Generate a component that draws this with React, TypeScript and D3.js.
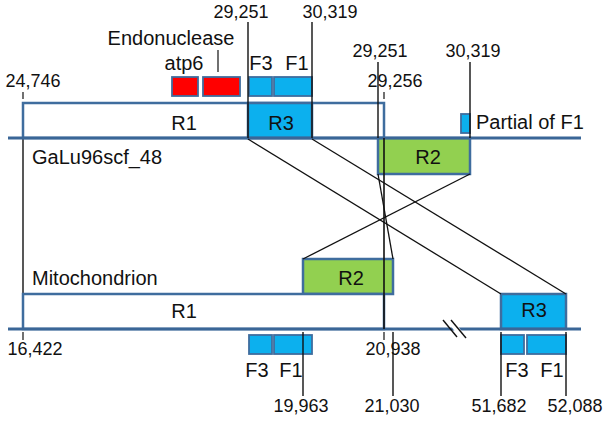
import React from 'react';
import * as d3 from 'd3';

const W = 609;
const H = 422;

// ---- data (schematic positions in diagram units) ----
const topRegions = [
  { name: 'R1', start: 23, end: 384, kind: 'plain' },
  { name: 'R3', start: 248, end: 312, kind: 'blue' },
];
const topLowerRegions = [{ name: 'R2', start: 378, end: 470, kind: 'green' }];
const topGenes = [
  { name: 'atp6', start: 172, end: 198, kind: 'red' },
  { name: 'Endonuclease', start: 203, end: 240, kind: 'red' },
  { name: 'F3', start: 249, end: 272, kind: 'blue' },
  { name: 'F1', start: 274, end: 312, kind: 'blue' },
];
const partialGenes = [{ name: 'Partial of F1', start: 461, end: 470 }];
const bottomUpperRegions = [{ name: 'R2', start: 303, end: 393, kind: 'green' }];
const bottomRegions = [
  { name: 'R1', start: 23, end: 384, kind: 'plain' },
  { name: 'R3', start: 501, end: 566, kind: 'blue' },
];
const bottomGenes = [
  { name: 'F3', start: 249, end: 272 },
  { name: 'F1', start: 274, end: 312 },
  { name: 'F3', start: 501, end: 524 },
  { name: 'F1', start: 527, end: 566 },
];
const sequenceNames = ['GaLu96scf_48', 'Mitochondrion'];
const trackSpan = [8, 581];

// coordinate labels: genome position text, schematic position, text centre
const topCoords = [
  { label: '24,746', pos: 23, tx: 33, row: 'mid', line: 'tick' },
  { label: '29,251', pos: 248, tx: 241, row: 'high', line: 'long' },
  { label: '30,319', pos: 312, tx: 330, row: 'high', line: 'long' },
  { label: '29,251', pos: 378, tx: 380, row: 'upper', line: 'long' },
  { label: '29,256', pos: 384, tx: 395, row: 'mid', line: 'tick' },
  { label: '30,319', pos: 470, tx: 473, row: 'upper', line: 'long' },
];
const bottomCoords = [
  { label: '16,422', pos: 23, tx: 35, row: 'near', line: 'tick' },
  { label: '20,938', pos: 384, tx: 393, row: 'near', line: 'tick' },
  { label: '19,963', pos: 303, tx: 301, row: 'far', line: 'long' },
  { label: '21,030', pos: 393, tx: 392, row: 'far', line: 'long' },
  { label: '51,682', pos: 501, tx: 499, row: 'far', line: 'long' },
  { label: '52,088', pos: 566, tx: 575, row: 'far', line: 'long' },
];

// ---- styles ----
const FILL: Record<string, string> = {
  plain: '#ffffff',
  blue: '#0cb0ee',
  green: '#92d050',
  red: '#ff0000',
};
const OUTLINE = '#3f6d9e';
const TRACK = '#3a6697';
const FONT = '"Liberation Sans", Arial, Helvetica, sans-serif';

export default function App() {
  const x = d3.scaleLinear().domain([0, W]).range([0, W]);
  // vertical layout
  const Y = {
    topGeneTop: 77, topGeneBot: 96,
    topBoxTop: 103, topTrack: 138, topLowerBot: 174,
    botUpperTop: 259, botBoxTop: 294, botTrack: 329,
    botGeneTop: 335, botGeneBot: 354,
  };
  const topTextY: Record<string, number> = { high: 18, upper: 57, mid: 87 };
  const topLineY: Record<string, number> = { high: 22, upper: 62 };
  const botTextY: Record<string, number> = { near: 355, far: 412 };

  const rect = (s: number, e: number, y0: number, y1: number, fill: string, key: string, sw = 2.5) => (
    <rect key={key} x={x(s)} y={y0} width={x(e) - x(s)} height={y1 - y0}
      fill={fill} stroke={OUTLINE} strokeWidth={sw} />
  );
  const txt = (t: string, cx: number, y: number, key: string, size = 20, anchor = 'middle') => (
    <text key={key} x={cx} y={y} fontSize={size} textAnchor={anchor} fill="#111" fontFamily={FONT}>{t}</text>
  );
  const line = (x1: number, y1: number, x2: number, y2: number, key: string, sw = 1.4, color = '#111') => (
    <line key={key} x1={x1} y1={y1} x2={x2} y2={y2} stroke={color} strokeWidth={sw} />
  );

  const r3Top = topRegions[1];
  const r3Bot = bottomRegions[1];
  const r2Top = topLowerRegions[0];
  const r2Bot = bottomUpperRegions[0];

  return (
    <svg width={W} height={H} style={{ position: 'absolute', left: 0, top: 0, background: '#fff' }}>
      <rect x={0} y={0} width={W} height={H} fill="#fff" />

      {/* long black connecting verticals */}
      {line(x(23), Y.topTrack, x(23), Y.botBoxTop, 'v23')}

      {/* top boxes */}
      {topRegions.map((r, i) => rect(r.start, r.end, Y.topBoxTop, Y.topTrack, FILL[r.kind], 'tr' + i))}
      {topLowerRegions.map((r, i) => rect(r.start, r.end, Y.topTrack, Y.topLowerBot, FILL[r.kind], 'tl' + i))}
      {topGenes.map((g, i) => rect(g.start, g.end, Y.topGeneTop, Y.topGeneBot, FILL[g.kind], 'tg' + i, 1.8))}
      {partialGenes.map((g, i) => rect(g.start, g.end, 114, 133, FILL.blue, 'pg' + i, 1.8))}

      {/* bottom boxes */}
      {bottomUpperRegions.map((r, i) => rect(r.start, r.end, Y.botUpperTop, Y.botBoxTop, FILL[r.kind], 'bu' + i))}
      {bottomRegions.map((r, i) => rect(r.start, r.end, Y.botBoxTop, Y.botTrack, FILL[r.kind], 'br' + i))}
      {bottomGenes.map((g, i) => rect(g.start, g.end, Y.botGeneTop, Y.botGeneBot, FILL.blue, 'bg' + i, 1.8))}

      {/* tracks */}
      {line(x(trackSpan[0]), Y.topTrack, x(trackSpan[1]), Y.topTrack, 'trk1', 3, TRACK)}
      {line(x(trackSpan[0]), Y.botTrack, x(trackSpan[1]), Y.botTrack, 'trk2', 3, TRACK)}

      {/* axis break */}
      <polygon points={`${x(446)},${320} ${x(453)},${320} ${x(467)},${338} ${x(460)},${338}`} fill="#fff" />
      {line(x(443), 320, x(457), 337, 'brk1', 1.4)}
      {line(x(451), 320, x(466), 338, 'brk2', 1.4)}

      {/* homology links */}
      {line(x(r3Top.start), Y.topTrack + 1, x(r3Bot.start), Y.botBoxTop, 'l1', 1.3)}
      {line(x(r3Top.end), Y.topTrack + 1, x(r3Bot.end), Y.botBoxTop, 'l2', 1.3)}
      {line(x(r2Top.start), Y.topLowerBot, x(r2Bot.end), Y.botUpperTop, 'l3', 1.3)}
      {line(x(r2Top.end), Y.topLowerBot, x(r2Bot.start), Y.botUpperTop, 'l4', 1.3)}
      {line(x(384), Y.topTrack, x(384), Y.botTrack, 'v384', 1.6)}

      {/* coordinate labels top */}
      {topCoords.map((c, i) => (
        <g key={'tc' + i}>
          {txt(c.label, c.tx, topTextY[c.row], 'tct' + i, 18)}
          {c.line === 'tick'
            ? line(x(c.pos), 92, x(c.pos), 99, 'tcl' + i, 1.2)
            : line(x(c.pos), topLineY[c.row], x(c.pos), Y.topTrack, 'tcl' + i, 1.4)}
        </g>
      ))}
      {/* coordinate labels bottom */}
      {bottomCoords.map((c, i) => (
        <g key={'bc' + i}>
          {txt(c.label, c.tx, botTextY[c.row], 'bct' + i, 18)}
          {c.line === 'tick'
            ? line(x(c.pos), 332, x(c.pos), 340, 'bcl' + i, 1.2)
            : line(x(c.pos), 332, x(c.pos), 396, 'bcl' + i, 1.4)}
        </g>
      ))}

      {/* gene labels */}
      {txt(topGenes[1].name, 171, 45, 'endo')}
      {line(x(218), 50, x(218), 72, 'endoTick', 1.2)}
      {txt(topGenes[0].name, 184, 70, 'atp6')}
      {txt(topGenes[2].name, 261, 70, 'f3t')}
      {txt(topGenes[3].name, 297, 70, 'f1t')}
      {txt(partialGenes[0].name, 476, 129, 'pf1', 20, 'start')}
      {txt(bottomGenes[0].name, 257, 377, 'f3b')}
      {txt(bottomGenes[1].name, 291, 377, 'f1b')}
      {txt(bottomGenes[2].name, 517, 377, 'f3b2')}
      {txt(bottomGenes[3].name, 552, 377, 'f1b2')}

      {/* region labels */}
      {txt(topRegions[0].name, 184, 130, 'r1t')}
      {txt(topRegions[1].name, 281, 130, 'r3t')}
      {txt(topLowerRegions[0].name, 428, 164, 'r2t')}
      {txt(bottomUpperRegions[0].name, 351, 285, 'r2b')}
      {txt(bottomRegions[0].name, 184, 318, 'r1b')}
      {txt(bottomRegions[1].name, 534, 317, 'r3b')}

      {/* sequence names */}
      {txt(sequenceNames[0], 32, 164, 'seq1', 20, 'start')}
      {txt(sequenceNames[1], 32, 285, 'seq2', 20, 'start')}
    </svg>
  );
}
